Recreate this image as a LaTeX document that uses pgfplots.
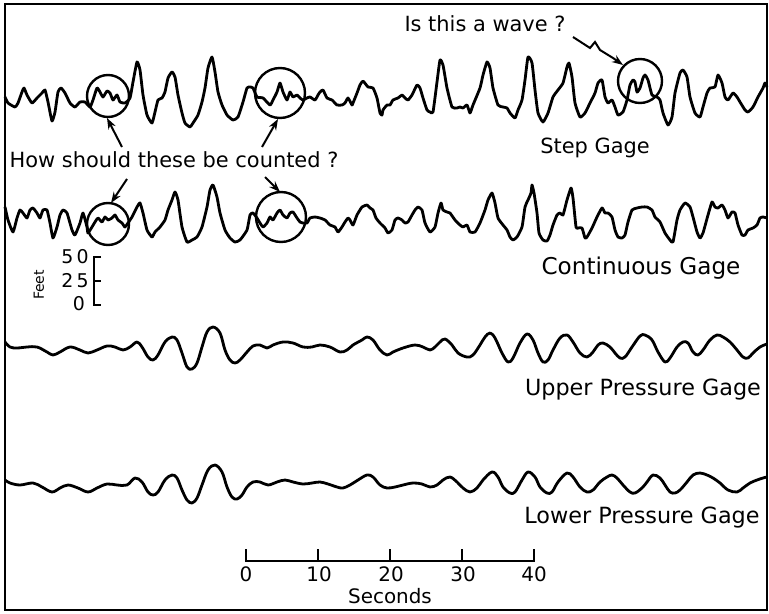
\documentclass[border=0pt]{standalone}
\usepackage{pgfplots}
\pgfplotsset{compat=1.18}
\usepackage{fontspec}
\setmainfont{DejaVu Sans}
\usetikzlibrary{arrows.meta}
\begin{document}
\begin{tikzpicture}
\begin{axis}[scale only axis, width=384.5bp, height=307bp,
  xmin=0, xmax=769, ymin=0, ymax=614, y dir=reverse, hide axis, clip=false]
\path (axis cs:0,0) rectangle (axis cs:769,614);
\draw[line width=1.1bp] (axis cs:5,4) rectangle (axis cs:767,610);
% Step gage
\addplot[black, line width=1.4bp, line join=round, smooth, tension=0.3] coordinates {
(5,97) (8,103) (15,107) (18,103) (22,92) (24,88) (27,95) (32,103) (37,98) (42,93) (45,90) (48,102) (52,121) (55,112) (58,92) (61,88) (65,93) (70,103) (75,107) (80,102) (85,102) (90,107) (93,100) (97,88) (100,92) (103,97) (107,91) (110,93) (113,100) (117,95) (120,102) (125,103) (130,98) (133,82) (137,62) (140,70) (143,95) (147,115) (152,123) (155,112) (158,100) (162,98) (165,92) (168,78) (172,72) (175,77) (178,95) (182,113) (185,123) (190,127) (193,123) (198,115) (202,102) (205,88) (208,68) (212,57) (215,72) (218,92) (222,105) (227,115) (233,120) (238,117) (243,102) (247,88) (250,87) (253,88) (257,97) (263,98) (270,105) (273,100) (277,92) (280,83) (283,92) (287,100) (290,92) (293,97) (297,95) (300,98) (303,100) (307,98) (310,97) (315,100) (318,95) (320,92) (323,90) (327,98) (332,100) (337,105) (342,105) (345,103) (348,98) (352,105) (353,103) (357,93) (360,85) (363,81) (368,87) (373,88) (377,98) (380,113) (382,115) (383,110) (387,105) (390,105) (393,100) (398,98) (402,95) (405,98) (408,100) (412,95) (417,85) (420,88) (423,98) (427,110) (430,112) (433,112) (437,82) (440,60) (443,65) (447,88) (452,107) (457,108) (460,107) (463,108) (467,105) (470,113) (473,105) (480,88) (483,75) (487,62) (490,68) (493,88) (498,105) (503,107) (507,108) (510,113) (515,118) (518,110) (522,100) (525,80) (528,57) (532,63) (535,90) (538,113) (543,122) (548,113) (553,97) (558,90) (563,83) (567,67) (569,63) (572,77) (575,103) (580,117) (585,113) (590,103) (595,93) (598,83) (602,80) (605,97) (608,103) (612,100) (615,107) (618,115) (623,112) (627,100) (630,85) (633,80) (635,82) (637,92) (640,88) (643,78) (645,75) (648,80) (652,95) (657,97) (660,100) (663,113) (668,125) (672,117) (675,93) (680,73) (683,70) (687,77) (690,97) (695,113) (700,117) (703,107) (707,93) (710,88) (715,87) (718,75) (722,83) (725,97) (728,100) (733,93) (737,97) (740,102) (745,110) (748,112) (753,107) (758,97) (763,88) (765,83) (767,87)
};
% Continuous gage
\addplot[black, line width=1.4bp, line join=round, smooth, tension=0.3] coordinates {
(5,207) (8,220) (13,232) (17,218) (20,210) (23,213) (27,218) (30,210) (33,208) (37,213) (40,218) (43,210) (47,210) (50,223) (53,238) (57,227) (60,215) (63,210) (67,213) (72,230) (75,235) (80,223) (83,213) (87,227) (88,233) (92,227) (95,222) (98,218) (102,222) (105,217) (108,220) (112,218) (115,215) (118,220) (122,223) (125,227) (128,223) (132,217) (137,207) (140,203) (143,213) (147,230) (152,237) (155,232) (160,227) (165,220) (168,210) (172,200) (175,192) (178,200) (182,227) (187,242) (192,240) (197,237) (202,227) (207,207) (210,190) (213,185) (217,197) (220,213) (225,230) (230,238) (235,242) (240,240) (247,230) (250,215) (253,213) (257,218) (260,223) (263,227) (267,223) (270,217) (273,220) (277,213) (280,210) (283,215) (287,218) (290,213) (293,212) (297,218) (300,222) (303,223) (307,223) (310,218) (315,217) (320,218) (325,220) (330,225) (335,227) (338,232) (342,227) (345,222) (348,218) (350,220) (353,225) (357,215) (362,207) (367,205) (370,208) (373,210) (376,218) (380,223) (385,228) (388,233) (392,230) (395,220) (398,218) (402,220) (405,223) (408,222) (412,215) (415,210) (418,207) (422,210) (425,223) (430,232) (435,227) (438,213) (441,203) (443,210) (447,212) (450,213) (455,220) (460,225) (463,227) (467,225) (470,232) (475,232) (480,223) (485,210) (488,200) (492,193) (495,203) (498,218) (503,225) (507,230) (510,237) (513,240) (517,237) (522,227) (525,207) (528,200) (531,193) (532,185) (534,193) (537,213) (539,233) (543,240) (547,241) (550,235) (553,225) (557,215) (560,213) (563,215) (567,200) (571,188) (573,198) (576,227) (578,228) (582,228) (585,238) (587,237) (592,228) (597,217) (602,208) (605,213) (608,213) (612,217) (615,230) (618,237) (622,238) (625,235) (628,222) (632,210) (637,208) (642,207) (647,207) (652,210) (655,217) (660,222) (665,233) (670,240) (673,242) (677,220) (680,210) (685,203) (690,207) (693,217) (697,232) (700,238) (703,233) (708,215) (712,202) (715,207) (718,208) (722,205) (725,210) (728,218) (732,212) (735,213) (738,225) (742,235) (745,235) (748,230) (753,228) (757,225) (760,218) (763,217) (767,218)
};
% Upper pressure gage
\addplot[black, line width=1.4bp, line join=round, smooth, tension=0.6] coordinates {
(5,342) (10,347) (17,348) (27,347) (37,347) (47,352) (53,355) (60,352) (70,347) (80,350) (88,353) (97,350) (107,346) (115,347) (123,350) (130,347) (137,342) (142,347) (148,357) (153,360) (158,355) (165,342) (172,337) (177,340) (182,353) (187,367) (192,369) (197,363) (202,347) (207,332) (213,327) (220,333) (225,350) (230,360) (235,363) (240,360) (247,352) (253,346) (260,345) (267,348) (273,345) (283,342) (293,343) (303,347) (312,347) (320,345) (330,347) (340,352) (347,350) (353,345) (362,340) (367,337) (373,340) (380,350) (387,355) (393,352) (403,348) (415,345) (423,347) (430,350) (435,347) (440,342) (445,339) (452,345) (458,353) (467,357) (473,355) (480,345) (485,337) (490,333) (495,338) (502,353) (508,362) (513,358) (520,343) (527,334) (533,340) (538,353) (543,362) (548,360) (553,350) (560,338) (567,335) (573,342) (580,353) (587,357) (593,352) (598,345) (603,343) (610,347) (615,353) (620,358) (625,357) (632,347) (640,336) (645,335) (652,340) (658,352) (665,362) (670,358) (677,347) (683,342) (688,343) (693,352) (698,355) (703,350) (710,340) (717,335) (723,337) (730,342) (737,350) (743,357) (748,358) (753,353) (760,347) (767,344)
};
% Lower pressure gage
\addplot[black, line width=1.4bp, line join=round, smooth, tension=0.6] coordinates {
(5,480) (10,483) (20,485) (33,483) (42,487) (52,492) (60,488) (68,485) (78,488) (88,492) (97,488) (107,484) (117,485) (127,485) (135,478) (142,482) (148,492) (153,495) (158,492) (165,480) (172,475) (177,478) (182,490) (187,500) (192,503) (197,498) (202,485) (208,470) (215,465) (222,472) (227,487) (232,497) (237,499) (242,495) (247,487) (253,482) (260,482) (268,485) (277,482) (285,480) (293,482) (303,484) (312,483) (320,482) (328,484) (337,487) (343,488) (350,485) (358,480) (367,475) (373,477) (380,485) (387,488) (395,487) (403,485) (413,483) (422,484) (430,487) (437,485) (443,480) (450,477) (457,482) (463,488) (470,492) (477,488) (483,480) (492,472) (498,477) (503,487) (510,493) (515,492) (522,480) (528,472) (535,477) (540,487) (547,493) (552,492) (558,482) (567,473) (573,477) (580,487) (587,492) (593,490) (600,482) (607,477) (612,475) (617,478) (623,485) (630,492) (635,493) (642,488) (647,482) (653,475) (660,478) (665,485) (670,492) (675,493) (680,490) (687,482) (693,475) (700,473) (707,475) (713,478) (720,483) (728,490) (737,492) (743,488) (750,483) (757,480) (763,478) (767,477)
};
% circles
\draw[line width=1.2bp] (axis cs:108,96) circle[radius=10.5bp];
\draw[line width=1.2bp] (axis cs:280,93) circle[radius=12.5bp];
\draw[line width=1.2bp] (axis cs:640,81) circle[radius=11bp];
\draw[line width=1.2bp] (axis cs:108,224) circle[radius=10.5bp];
\draw[line width=1.2bp] (axis cs:281,217) circle[radius=12.5bp];
% arrows
\tikzset{ann/.style={line width=1bp, -{Stealth[length=5.5bp,width=4bp]}}}
\draw[ann] (axis cs:122,147) -- (axis cs:107,118);
\draw[ann] (axis cs:262,147) -- (axis cs:278,119);
\draw[ann] (axis cs:127,179) -- (axis cs:111,203);
\draw[ann] (axis cs:265,177) -- (axis cs:280,192);
\draw[ann] (axis cs:573,37) -- (axis cs:590,48) -- (axis cs:595,42) -- (axis cs:600,50) -- (axis cs:613,58) -- (axis cs:623,65);
% texts
\node[font=\fontsize{10.5}{12}\selectfont] at (axis cs:485,24) {Is this a wave ?};
\node[font=\fontsize{10.5}{12}\selectfont] at (axis cs:174,160) {How should these be counted ?};
\node[font=\fontsize{10.5}{12}\selectfont] at (axis cs:595,148) {Step Gage};
\node[font=\fontsize{11.6}{13}\selectfont] at (axis cs:641,268) {Continuous Gage};
\node[font=\fontsize{11.2}{13}\selectfont] at (axis cs:643,390) {Upper Pressure Gage};
\node[font=\fontsize{11.2}{13}\selectfont] at (axis cs:642,518) {Lower Pressure Gage};
% feet scale
\draw[line width=0.9bp] (axis cs:101,257) -- (axis cs:94,257) -- (axis cs:94,305) -- (axis cs:101,305);
\draw[line width=0.9bp] (axis cs:94,281) -- (axis cs:101,281);
\node[font=\fontsize{9.5}{10}\selectfont] at (axis cs:75,257) {5\,0};
\node[font=\fontsize{9.5}{10}\selectfont] at (axis cs:75,281) {2\,5};
\node[font=\fontsize{9.5}{10}\selectfont] at (axis cs:79,304) {0};
\node[font=\fontsize{7}{8}\selectfont, rotate=90] at (axis cs:39,285) {Feet};
% seconds scale
\draw[line width=0.9bp] (axis cs:246,549) -- (axis cs:246,561) -- (axis cs:534,561) -- (axis cs:534,549);
\draw[line width=0.9bp] (axis cs:318,549) -- (axis cs:318,561);
\draw[line width=0.9bp] (axis cs:390,549) -- (axis cs:390,561);
\draw[line width=0.9bp] (axis cs:462,549) -- (axis cs:462,561);
\node[font=\fontsize{10}{11}\selectfont] at (axis cs:246,574) {0};
\node[font=\fontsize{10}{11}\selectfont] at (axis cs:319,574) {10};
\node[font=\fontsize{10}{11}\selectfont] at (axis cs:391,574) {20};
\node[font=\fontsize{10}{11}\selectfont] at (axis cs:463,574) {30};
\node[font=\fontsize{10}{11}\selectfont] at (axis cs:534,574) {40};
\node[font=\fontsize{10}{11}\selectfont] at (axis cs:390,596) {Seconds};
\end{axis}
\end{tikzpicture}
\end{document}
